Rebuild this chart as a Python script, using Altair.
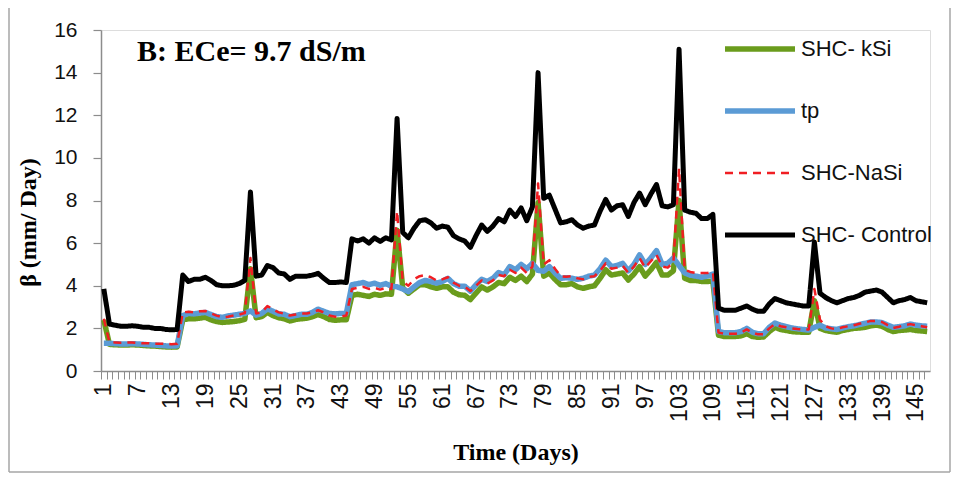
import altair as alt
import pandas as pd

days = list(range(1, 148))
series_names = ["SHC- kSi", "tp", "SHC-NaSi", "SHC- Control"]

ksi = [2.4, 1.25, 1.23, 1.22, 1.22, 1.23, 1.22, 1.2, 1.18, 1.17,
       1.15, 1.13, 1.12, 1.13, 2.4, 2.45, 2.45, 2.48, 2.52, 2.4,
       2.32, 2.28, 2.3, 2.32, 2.36, 2.42, 4.8, 2.5, 2.55, 2.75,
       2.6, 2.5, 2.45, 2.35, 2.42, 2.45, 2.48, 2.55, 2.65, 2.55,
       2.42, 2.38, 2.4, 2.4, 3.55, 3.6, 3.55, 3.5, 3.6, 3.55,
       3.62, 3.6, 6.6, 3.9, 3.65, 3.85, 4.05, 4.05, 3.95, 3.88,
       3.95, 3.95, 3.7, 3.58, 3.55, 3.35, 3.65, 3.95, 3.8, 3.95,
       4.15, 4.1, 4.4, 4.25, 4.45, 4.2, 4.55, 7.9, 4.45, 4.6,
       4.3, 4.05, 4.05, 4.1, 3.95, 3.88, 3.95, 4.0, 4.35, 4.75,
       4.5, 4.55, 4.6, 4.27, 4.55, 4.9, 4.45, 4.75, 5.1, 4.5,
       4.5, 4.7, 8.0, 4.35, 4.25, 4.25, 4.2, 4.2, 4.22, 1.68,
       1.62, 1.62, 1.62, 1.65, 1.75, 1.62, 1.58, 1.6, 1.85, 2.05,
       1.95, 1.9, 1.85, 1.83, 1.82, 1.82, 3.3, 2.0, 1.9, 1.85,
       1.82, 1.9, 1.95, 2.0, 2.02, 2.05, 2.12, 2.15, 2.1, 1.95,
       1.85, 1.9, 1.92, 1.95, 1.9, 1.88, 1.85]

tp = [1.3, 1.3, 1.28, 1.27, 1.27, 1.28, 1.27, 1.25, 1.23, 1.22,
      1.2, 1.18, 1.17, 1.18, 2.6, 2.7, 2.68, 2.72, 2.75, 2.65,
      2.55, 2.52, 2.58, 2.62, 2.66, 2.7, 2.82, 2.62, 2.7, 2.92,
      2.8, 2.68, 2.66, 2.55, 2.6, 2.66, 2.66, 2.75, 2.9, 2.8,
      2.7, 2.68, 2.7, 2.7, 4.05, 4.1, 4.15, 4.05, 4.12, 4.02,
      4.1, 3.98, 3.95, 3.85, 3.72, 3.95, 4.15, 4.25, 4.2, 4.12,
      4.2, 4.35, 4.1, 3.98, 3.98, 3.75, 4.05, 4.3, 4.2, 4.35,
      4.62, 4.52, 4.9, 4.75, 5.0, 4.8, 5.05, 4.72, 4.68, 4.9,
      4.6, 4.35, 4.38, 4.35, 4.3, 4.35, 4.45, 4.5, 4.8, 5.2,
      4.9, 4.95, 5.05, 4.7, 5.0, 5.45, 5.0, 5.3, 5.65, 5.0,
      5.05, 5.3, 4.95, 4.6, 4.5, 4.45, 4.4, 4.45, 4.55, 1.85,
      1.8, 1.8, 1.8, 1.85, 2.0, 1.82, 1.75, 1.75, 2.05, 2.25,
      2.15, 2.08, 2.02, 1.98, 1.95, 1.92, 2.05, 2.15, 2.02, 1.98,
      1.95, 2.02, 2.08, 2.12, 2.18, 2.24, 2.3, 2.3, 2.27, 2.15,
      2.05, 2.08, 2.12, 2.2, 2.15, 2.12, 2.1]

nasi = [2.45, 1.35, 1.34, 1.33, 1.33, 1.34, 1.32, 1.3, 1.3, 1.28,
        1.28, 1.27, 1.26, 1.28, 2.75, 2.78, 2.75, 2.8, 2.82, 2.7,
        2.6, 2.52, 2.55, 2.6, 2.65, 2.72, 5.3, 2.7, 2.75, 3.05,
        2.9, 2.75, 2.7, 2.6, 2.65, 2.7, 2.7, 2.75, 2.85, 2.75,
        2.6, 2.55, 2.55, 2.6, 3.85, 3.9, 3.95, 3.85, 3.9, 3.82,
        3.9, 3.85, 7.5, 4.2, 4.0, 4.3, 4.45, 4.5, 4.4, 4.25,
        4.3, 4.4, 4.15, 4.0, 3.95, 3.75, 4.0, 4.25, 4.1, 4.25,
        4.5, 4.45, 4.75, 4.6, 4.85, 4.6, 4.9, 8.8, 5.0, 5.2,
        4.8, 4.45, 4.42, 4.45, 4.35, 4.3, 4.42, 4.45, 4.7, 5.05,
        4.8, 4.85, 4.95, 4.6, 4.9, 5.3, 4.85, 5.15, 5.45, 4.9,
        4.85, 5.1, 9.5, 4.75, 4.65, 4.6, 4.6, 4.6, 4.65, 1.8,
        1.75, 1.75, 1.75, 1.8, 1.95, 1.8, 1.72, 1.72, 2.0, 2.2,
        2.1, 2.05, 2.0, 1.97, 1.95, 1.95, 3.85, 2.4, 2.1, 2.0,
        1.97, 2.05, 2.1, 2.15, 2.22, 2.28, 2.35, 2.35, 2.3, 2.15,
        2.02, 2.08, 2.15, 2.2, 2.15, 2.1, 2.05]

control = [3.85, 2.2, 2.15, 2.1, 2.1, 2.12, 2.1, 2.05, 2.05, 2.0,
           2.0, 1.95, 1.93, 1.95, 4.5, 4.2, 4.3, 4.3, 4.4, 4.25,
           4.05, 4.0, 4.0, 4.02, 4.1, 4.25, 8.4, 4.45, 4.5, 4.95,
           4.85, 4.6, 4.55, 4.3, 4.45, 4.45, 4.45, 4.5, 4.58, 4.35,
           4.15, 4.15, 4.18, 4.15, 6.2, 6.1, 6.2, 6.0, 6.25, 6.08,
           6.25, 6.15, 11.85, 6.5, 6.25, 6.7, 7.05, 7.1, 6.95, 6.7,
           6.8, 6.75, 6.35, 6.2, 6.1, 5.8, 6.35, 6.85, 6.55, 6.8,
           7.15, 7.0, 7.55, 7.25, 7.65, 7.05, 7.7, 14.0, 8.1, 8.25,
           7.6, 6.95, 7.0, 7.1, 6.85, 6.7, 6.8, 6.85, 7.5, 8.05,
           7.55, 7.75, 7.8, 7.25, 7.9, 8.35, 7.8, 8.3, 8.75, 7.75,
           7.7, 7.8, 15.1, 7.55, 7.45, 7.4, 7.15, 7.15, 7.35, 2.95,
           2.85, 2.85, 2.85, 2.95, 3.05, 2.9, 2.8, 2.8, 3.15, 3.4,
           3.3, 3.2, 3.15, 3.1, 3.05, 3.05, 6.05, 3.65, 3.45, 3.3,
           3.2, 3.3, 3.4, 3.45, 3.55, 3.7, 3.75, 3.8, 3.7, 3.45,
           3.2, 3.3, 3.35, 3.45, 3.3, 3.25, 3.2]

x_label_days = [1, 7, 13, 19, 25, 31, 37, 43, 49, 55, 61, 67, 73, 79, 85,
                91, 97, 103, 109, 115, 121, 127, 133, 139, 145]
y_ticks = [0, 2, 4, 6, 8, 10, 12, 14, 16]
title_text = "B: ECe= 9.7 dS/m"
x_title = "Time (Days)"
y_title = "β (mm/ Day)"

series_values = [ksi, tp, nasi, control]
for v in series_values:
    assert len(v) == len(days)

df = pd.concat(
    [pd.DataFrame({"day": days, "value": v, "series": n})
     for n, v in zip(series_names, series_values)],
    ignore_index=True,
)

W, H = 829, 341
step = W / len(days)
axis_grey = "#8c8c8c"

legend = alt.Legend(
    title=None, orient="none", legendX=621, legendY=9,
    symbolType="stroke", symbolSize=4900, clipHeight=20, rowPadding=40,
    labelFontSize=22, labelFont="Liberation Sans", labelColor="#111111",
    labelOffset=3, padding=0,
)

color_enc = alt.Color("series:N", legend=legend, scale=alt.Scale(
    domain=series_names, range=["#6a9c1c", "#5b9bd5", "#f01e23", "#000000"]))
dash_enc = alt.StrokeDash("series:N", legend=legend, scale=alt.Scale(
    domain=series_names, range=[[1, 0], [1, 0], [8, 6], [1, 0]]))
width_enc = alt.StrokeWidth("series:N", legend=legend, scale=alt.Scale(
    type="ordinal", domain=series_names, range=[5.5, 5.5, 2.5, 5]))

label_list = "[" + ",".join(str(d) for d in x_label_days) + "]"
x_enc = alt.X(
    "day:Q",
    scale=alt.Scale(domain=[0.5, len(days) + 0.5], nice=False, zero=False),
    axis=alt.Axis(
        values=days + [len(days) + 1],
        labelExpr=f"indexof({label_list}, datum.value) >= 0 ? datum.label : ''",
        labelAngle=270, labelFontSize=23, labelFont="Liberation Sans",
        labelColor="#111111", labelPadding=4, labelOverlap=False, labelFlush=False,
        tickSize=8, tickColor=axis_grey, tickWidth=1,
        tickOffset=-step / 2, labelOffset=step / 2,
        domainColor=axis_grey, domainWidth=1.5, grid=False,
        title=x_title, titleFont="Liberation Serif", titleFontWeight="bold",
        titleFontSize=24, titleColor="#000000", titleX=W / 2, titleY=81,
        titleBaseline="middle", titleAlign="center",
    ),
)
y_enc = alt.Y(
    "value:Q",
    scale=alt.Scale(domain=[0, 16], nice=False),
    axis=alt.Axis(
        values=y_ticks, labelFontSize=21, labelFont="Liberation Sans",
        labelColor="#111111", labelPadding=16, tickSize=8, tickColor=axis_grey,
        tickWidth=1.2, domainColor=axis_grey, domainWidth=1.5, grid=False,
        title=y_title, titleFont="Liberation Serif", titleFontWeight="bold",
        titleFontSize=24, titleColor="#000000", titleX=-73, titleY=192,
        titleAngle=270, titleBaseline="middle", titleAlign="center",
    ),
)

base = alt.Chart(df)
layers = []
for name in series_names:
    layers.append(
        base.transform_filter(alt.datum.series == name)
        .mark_line(strokeJoin="round")
        .encode(x=x_enc, y=y_enc, color=color_enc,
                strokeDash=dash_enc, strokeWidth=width_enc)
    )

title_layer = alt.Chart(pd.DataFrame({"t": [title_text]})).mark_text(
    align="left", baseline="middle", font="Liberation Serif",
    fontWeight="bold", fontSize=30, color="#000000",
).encode(text="t:N", x=alt.value(36), y=alt.value(22))

frame_df = pd.DataFrame({"k": [0]})
frame_color = "#a6a6a6"
frame_left = alt.Chart(frame_df).mark_rule(color=frame_color, strokeWidth=1.5).encode(
    x=alt.value(-92), y=alt.value(-22), y2=alt.value(442))
frame_right = alt.Chart(frame_df).mark_rule(color=frame_color, strokeWidth=1.5).encode(
    x=alt.value(849), y=alt.value(-22), y2=alt.value(442))
frame_bottom = alt.Chart(frame_df).mark_rule(color=frame_color, strokeWidth=1.5).encode(
    x=alt.value(-92), x2=alt.value(849), y=alt.value(442))

chart = alt.layer(
    *layers, title_layer, frame_left, frame_right, frame_bottom
).properties(
    width=W, height=H,
    autosize=alt.AutoSizeParams(type="none"),
    padding={"left": 93, "top": 22, "right": 22, "bottom": 103},
).configure_view(stroke=None).configure(background="white")

chart.save("out.html", embed_options={"renderer": "svg", "actions": False})
